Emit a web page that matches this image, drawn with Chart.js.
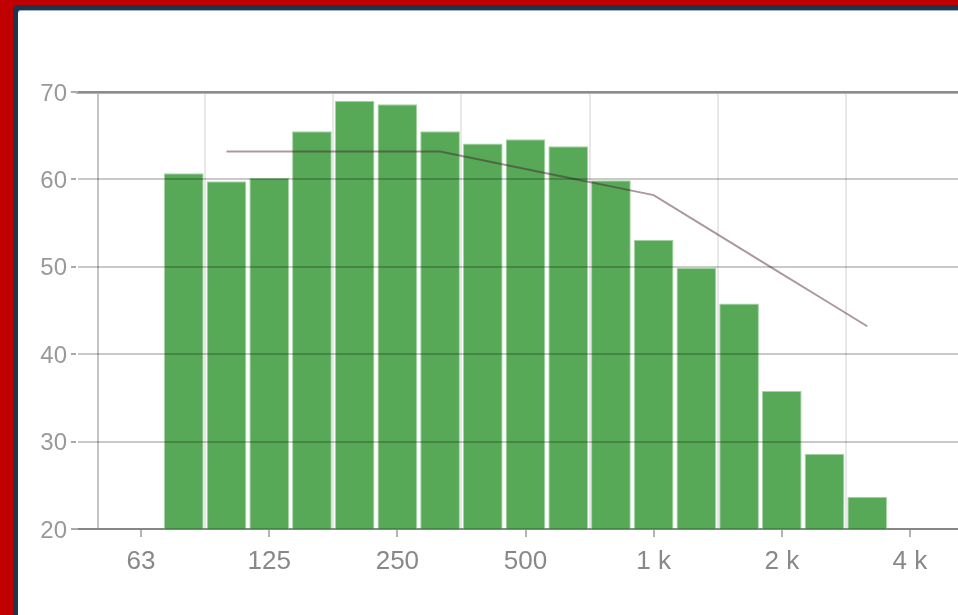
<!DOCTYPE html>
<html>
<head>
<meta charset="utf-8">
<script src="https://cdn.jsdelivr.net/npm/chart.js@4"></script>
<style>
  html, body { margin: 0; padding: 0; overflow: hidden; width: 958px; height: 615px; background: #c00000; }
  #navy { position: absolute; left: 13px; top: 5px; width: 945px; height: 610px; background: #1d3550; border-top-left-radius: 5px; }
  #paper { position: absolute; left: 18px; top: 10px; width: 940px; height: 605px; background: #fff; border-top: 1px solid #9fb0c0; box-sizing: border-box; border-top-left-radius: 3px; }
  #clip { position: absolute; left: 22px; top: 0; width: 936px; height: 615px; overflow: hidden; }
  #chart { position: absolute; left: -4px; top: 0; }
</style>
</head>
<body>
<div id="navy"></div>
<div id="paper"></div>
<div id="clip"><canvas id="chart" width="956" height="615"></canvas></div>
<script>
// third-octave bands shown on the axis
const bands = ["50", "63", "80", "100", "125", "160", "200", "250", "315", "400", "500",
  "630", "800", "1k", "1.25k", "1.6k", "2k", "2.5k", "3.15k", "4k", "5k"];

// labelled ticks
const tickText = { "63": "63", "125": "125", "250": "250", "500": "500", "1k": "1 k", "2k": "2 k", "4k": "4 k" };

// measured levels (dB)
const levels = [null, null, 60.7, 59.8, 60.2, 65.5, 69.0, 68.6, 65.5, 64.1, 64.6,
  63.8, 59.9, 53.1, 49.9, 45.8, 35.8, 28.6, 23.7, null, null];

// shifted reference curve
const refCurve = [null, null, null, 63.2, 63.2, 63.2, 63.2, 63.2, 63.2, 62.2, 61.2,
  60.2, 59.2, 58.2, 55.2, 52.2, 49.2, 46.2, 43.2, null, null];

const ctx = document.getElementById("chart").getContext("2d");

new Chart(ctx, {
  data: {
    labels: bands,
    datasets: [
      {
        type: "line",
        data: refCurve,
        borderColor: "rgba(70, 25, 45, 0.45)",
        borderWidth: 2,
        pointRadius: 0,
        tension: 0,
        order: 0
      },
      {
        type: "bar",
        data: levels,
        backgroundColor: "#57a957",
        borderColor: "#a6d4a6",
        borderWidth: 1,
        borderSkipped: "bottom",
        barPercentage: 0.93,
        categoryPercentage: 1,
        order: 1
      }
    ]
  },
  options: {
    responsive: false,
    animation: false,
    layout: { padding: { top: 92, left: 0, right: 0, bottom: 0 } },
    plugins: { legend: { display: false }, tooltip: { enabled: false } },
    scales: {
      x: {
        type: "category",
        position: "bottom",
        offset: true,
        grid: {
          offset: false,
          lineWidth: 2,
          color: (c) => (c.index === 0 ? "#c4c4c4" : "transparent"),
          tickColor: (c) => (tickText[bands[c.index]] ? "#b4b4b4" : "transparent"),
          tickLength: 8
        },
        border: { color: "#aaaaaa", width: 2 },
        ticks: {
          autoSkip: false,
          maxRotation: 0,
          color: "#888",
          padding: 9,
          font: { family: "'Liberation Sans Narrow', 'Liberation Sans', sans-serif", size: 26 },
          callback: (v, i) => tickText[bands[i]] || ""
        },
        afterFit: (s) => { s.height = 86; }
      },
      xTop: {
        type: "category",
        position: "top",
        offset: true,
        grid: {
          offset: true,
          drawTicks: false,
          lineWidth: 2,
          color: (c) => (c.index > 0 && c.index % 3 === 0 ? "#e8e8e8" : "transparent")
        },
        border: { color: "#b2b2b2", width: 3 },
        ticks: { display: false }
      },
      y: {
        min: 20,
        max: 70,
        ticks: {
          stepSize: 10,
          color: "#999",
          padding: 4,
          labelOffset: 2,
          font: { family: "'Liberation Sans', sans-serif", size: 24 }
        },
        grid: {
          z: 1,
          color: "rgba(0, 0, 0, 0.21)",
          lineWidth: 2,
          tickLength: 6,
          tickColor: "#aaa"
        },
        border: { color: "#999", width: 2 },
        afterFit: (s) => { s.width = 59; }
      }
    }
  }
});
</script>
</body>
</html>
